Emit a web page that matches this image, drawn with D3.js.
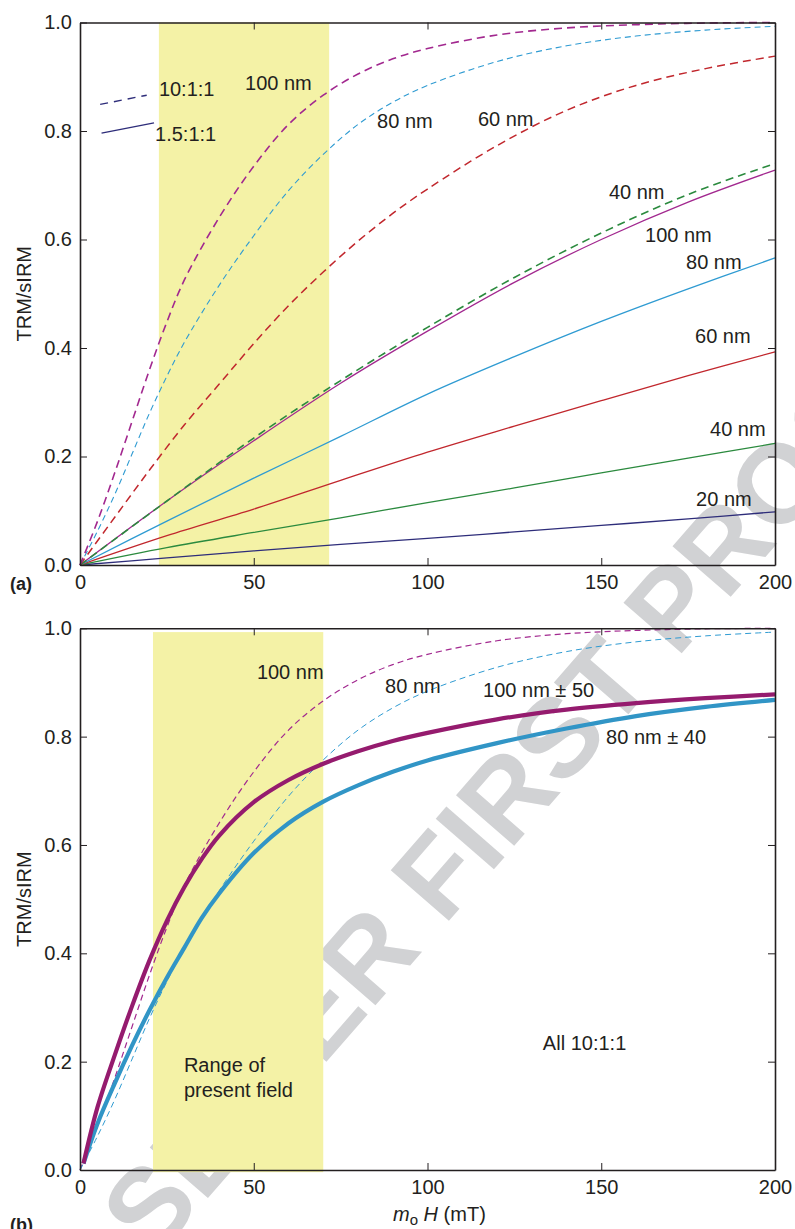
<!DOCTYPE html>
<html>
<head>
<meta charset="utf-8">
<script src="https://cdn.jsdelivr.net/npm/d3@7"></script>
<style>
  body { margin: 0; background: #fff; }
  svg { display: block; font-family: "Liberation Sans", Arial, Helvetica, sans-serif; }
</style>
</head>
<body>
<div id="canvas"></div>
<script>
// ---- data (x = mu0 H in mT, y = TRM/sIRM) ----
const xTicks = [0, 50, 100, 150, 200];
const yTicks = [0, 0.2, 0.4, 0.6, 0.8, 1.0];

// shaded "range of present field" (mT)
const fieldA = [22.7, 71.7];
const fieldB = [21, 70];

// 10:1:1 (dashed) curves
const xDash100 = [0, 5, 10, 15, 20, 25, 30, 40, 50, 60, 70, 80, 90, 100, 120, 140, 160, 180, 200];
const yDash100 = [0, 0.08, 0.17, 0.265, 0.36, 0.448, 0.525, 0.64, 0.735, 0.812, 0.866, 0.905, 0.933, 0.952, 0.977, 0.99, 0.996, 0.999, 1.0];
const xDash80 = [0, 5, 10, 15, 20, 25, 30, 40, 50, 60, 70, 80, 90, 100, 120, 140, 160, 180, 200];
const yDash80 = [0, 0.062, 0.13, 0.205, 0.28, 0.348, 0.41, 0.515, 0.607, 0.69, 0.757, 0.812, 0.853, 0.884, 0.928, 0.957, 0.975, 0.986, 0.993];
const xDash60 = [0, 10, 20, 30, 40, 50, 60, 70, 80, 90, 100, 120, 140, 160, 180, 200];
const yDash60 = [0, 0.088, 0.175, 0.258, 0.333, 0.408, 0.478, 0.54, 0.597, 0.648, 0.693, 0.773, 0.838, 0.884, 0.915, 0.938];
const xDash40 = [0, 25, 50, 75, 100, 125, 150, 175, 200];
const yDash40 = [0, 0.118, 0.234, 0.34, 0.438, 0.53, 0.612, 0.683, 0.74];

// 1.5:1:1 (solid) curves
const xSolid = [0, 25, 50, 75, 100, 125, 150, 175, 200];
const ySolid100 = [0, 0.118, 0.229, 0.335, 0.431, 0.521, 0.6, 0.669, 0.728];
const ySolid80 = [0, 0.081, 0.16, 0.237, 0.315, 0.384, 0.449, 0.509, 0.566];
const ySolid60 = [0, 0.054, 0.103, 0.156, 0.208, 0.256, 0.303, 0.349, 0.393];
const ySolid40 = [0, 0.032, 0.06, 0.087, 0.115, 0.142, 0.17, 0.197, 0.224];
const ySolid20 = [0, 0.013, 0.026, 0.038, 0.049, 0.061, 0.073, 0.085, 0.098];

// size distributions, panel (b)
const xDist = [1, 5, 10, 15, 20, 25, 30, 35, 40, 50, 60, 70, 80, 90, 100, 120, 140, 160, 180, 200];
const yDist100 = [0.012, 0.115, 0.212, 0.303, 0.387, 0.46, 0.522, 0.574, 0.617, 0.679, 0.72, 0.75, 0.773, 0.792, 0.807, 0.832, 0.85, 0.862, 0.871, 0.878];
const yDist80 = [0.012, 0.085, 0.16, 0.23, 0.295, 0.355, 0.41, 0.465, 0.51, 0.585, 0.64, 0.68, 0.71, 0.735, 0.756, 0.788, 0.815, 0.838, 0.855, 0.868];

// key samples in panel (a)
const keyDashX = [5.8, 19.2], keyDashY = [0.849, 0.866];
const keySolidX = [6.2, 21.3], keySolidY = [0.796, 0.815];

// labels [text, x, y] in data units
const labelsA = [
  ["10:1:1", 22.7, 0.8645], ["1.5:1:1", 21.6, 0.7816],
  ["100 nm", 47.5, 0.8756], ["80 nm", 85.5, 0.8055], ["60 nm", 114.5, 0.809],
  ["40 nm", 152.2, 0.6747], ["100 nm", 162.6, 0.5954], ["80 nm", 174.4, 0.5456],
  ["60 nm", 177, 0.4092], ["40 nm", 181.3, 0.2378], ["20 nm", 177.3, 0.1088]
];
const labelsB = [
  ["100 nm", 50.9, 0.9064], ["80 nm", 87.8, 0.8806],
  ["100 nm \u00b1 50", 116, 0.8732], ["80 nm \u00b1 40", 151.4, 0.7864],
  ["Range of", 29.9, 0.181], ["present field", 29.9, 0.1348],
  ["All 10:1:1", 133.2, 0.2215]
];

const C = {
  magenta: "#a2288f", blue: "#2f9bd2", red: "#c1272d", green: "#2b8a3e",
  navy: "#2e2d7a", thickMag: "#951b6e", thickBlue: "#3195c6",
  ink: "#231f20", field: "#f4f2a6", mark: "#d1d2d4"
};

const width = 795, height = 1229;
const svg = d3.select("#canvas").append("svg")
  .attr("width", width).attr("height", height);
svg.append("rect").attr("width", width).attr("height", height).attr("fill", "#fff");

// proof watermark, under everything else
svg.append("text")
  .attr("transform", "translate(470,838) rotate(-49)")
  .attr("text-anchor", "middle")
  .attr("dominant-baseline", "central")
  .attr("font-size", 112)
  .attr("font-weight", "bold")
  .attr("fill", C.mark)
  .text("ELSEVIER FIRST PROOF");

const x = d3.scaleLinear().domain([0, 200]).range([80, 775]);
const yA = d3.scaleLinear().domain([0, 1]).range([565, 22.5]);
const yB = d3.scaleLinear().domain([0, 1]).range([1170, 628.3]);

function shade(y, range, yr) {
  svg.append("rect")
    .attr("x", x(range[0])).attr("width", x(range[1]) - x(range[0]))
    .attr("y", y(yr[1])).attr("height", y(yr[0]) - y(yr[1]))
    .attr("fill", C.field);
}

function curve(y, xs, ys, color, w, dash) {
  const line = d3.line()
    .x(d => x(d[0])).y(d => y(d[1]))
    .curve(d3.curveCatmullRom.alpha(0.5));
  svg.append("path")
    .datum(d3.zip(xs, ys))
    .attr("d", line)
    .attr("fill", "none")
    .attr("stroke", color)
    .attr("stroke-width", w)
    .attr("stroke-dasharray", dash || null)
    .attr("stroke-linecap", "butt");
}

function axes(y) {
  const y0 = y.range()[0], y1 = y.range()[1];
  const style = g => {
    g.attr("font-size", 20).attr("font-family", null);
    g.select(".domain").attr("stroke", C.ink).attr("stroke-width", 1.6);
    g.selectAll(".tick line").attr("stroke", C.ink).attr("stroke-width", 1);
    g.selectAll(".tick text").attr("fill", C.ink);
  };
  svg.append("g").attr("transform", `translate(0,${y0})`)
    .call(d3.axisBottom(x).tickValues(xTicks).tickSize(-7).tickSizeOuter(0).tickPadding(10))
    .call(style);
  svg.append("g").attr("transform", `translate(0,${y1})`)
    .call(d3.axisTop(x).tickValues(xTicks).tickSize(-7).tickSizeOuter(0).tickFormat(""))
    .call(style);
  svg.append("g").attr("transform", `translate(${x(0)},0)`)
    .call(d3.axisLeft(y).tickValues(yTicks).tickSize(-7).tickSizeOuter(0).tickPadding(8).tickFormat(d3.format(".1f")))
    .call(style);
  svg.append("g").attr("transform", `translate(${x(200)},0)`)
    .call(d3.axisRight(y).tickValues(yTicks).tickSize(-7).tickSizeOuter(0).tickFormat(""))
    .call(style);
  svg.append("text")
    .attr("transform", `translate(31,${(y0 + y1) / 2}) rotate(-90)`)
    .attr("text-anchor", "middle")
    .attr("font-size", 20).attr("fill", C.ink)
    .text("TRM/sIRM");
}

function labels(y, list) {
  svg.append("g").selectAll("text").data(list).join("text")
    .attr("x", d => x(d[1])).attr("y", d => y(d[2]))
    .attr("font-size", 20).attr("fill", C.ink)
    .text(d => d[0]);
}

// ---- panel (a) ----
shade(yA, fieldA, [0, 1]);
curve(yA, xSolid, ySolid20, C.navy, 1.3);
curve(yA, xSolid, ySolid40, C.green, 1.3);
curve(yA, xSolid, ySolid60, C.red, 1.3);
curve(yA, xSolid, ySolid80, C.blue, 1.3);
curve(yA, xSolid, ySolid100, C.magenta, 1.3);
curve(yA, xDash40, yDash40, C.green, 1.6, "8,5");
curve(yA, xDash60, yDash60, C.red, 1.5, "8,5");
curve(yA, xDash80, yDash80, C.blue, 1.1, "6,4");
curve(yA, xDash100, yDash100, C.magenta, 1.6, "8,5");
curve(yA, keyDashX, keyDashY, C.navy, 1.4, "8,6");
curve(yA, keySolidX, keySolidY, C.navy, 1.4);
axes(yA);
labels(yA, labelsA);
svg.append("text").attr("x", 10).attr("y", 590)
  .attr("font-size", 18).attr("font-weight", "bold").attr("fill", C.ink).text("(a)");

// ---- panel (b) ----
shade(yB, fieldB, [-0.004, 0.993]);
curve(yB, xDash100, yDash100, C.magenta, 1.2, "6,4");
curve(yB, xDash80, yDash80, C.blue, 1, "6,4");
curve(yB, xDist, yDist80, C.thickBlue, 4.2);
curve(yB, xDist, yDist100, C.thickMag, 4.2);
axes(yB);
labels(yB, labelsB);
svg.append("text").attr("x", 10).attr("y", 1231)
  .attr("font-size", 18).attr("font-weight", "bold").attr("fill", C.ink).text("(b)");

const xl = svg.append("text").attr("x", 393).attr("y", 1221)
  .attr("font-size", 20).attr("fill", C.ink);
xl.append("tspan").attr("font-style", "italic").text("m");
xl.append("tspan").attr("font-size", 15).attr("dy", 4).text("o");
xl.append("tspan").attr("dy", -4).text(" ");
xl.append("tspan").attr("font-style", "italic").text("H");
xl.append("tspan").text(" (mT)");
</script>
</body>
</html>
